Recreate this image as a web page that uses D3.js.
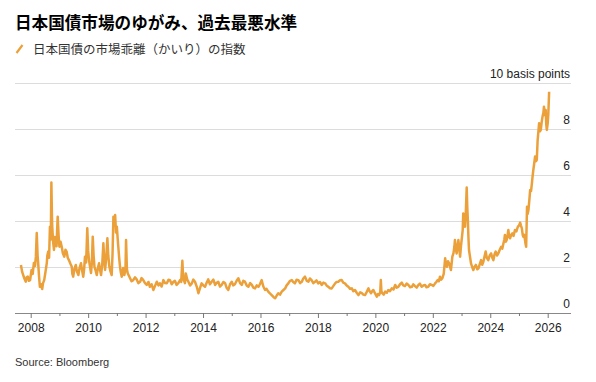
<!DOCTYPE html>
<html>
<head>
<meta charset="utf-8">
<script src="https://cdn.jsdelivr.net/npm/d3@7"></script>
<style>
  html, body { margin: 0; padding: 0; background: #fff; }
  svg { display: block; }
  text { font-family: "Liberation Sans", Arial, "Noto Sans CJK JP", sans-serif; }
  .jp { font-family: "Noto Sans CJK JP", "Liberation Sans", sans-serif; }
</style>
</head>
<body>
<svg id="chart" width="596" height="382"></svg>
<script>
// ---- data (decimal year, index in basis points) ----
const title = "日本国債市場のゆがみ、過去最悪水準";
const seriesName = "日本国債の市場乖離（かいり）の指数";
const unitLabel = "10 basis points";
const source = "Source: Bloomberg";

const dates = [
  2007.66, 2007.70, 2007.74, 2007.78, 2007.83, 2007.86, 2007.90, 2007.94, 2007.98, 2008.00,
  2008.03, 2008.07, 2008.11, 2008.15, 2008.18, 2008.21, 2008.24, 2008.26, 2008.29, 2008.32,
  2008.36, 2008.40, 2008.43, 2008.47, 2008.51, 2008.56, 2008.58, 2008.61, 2008.64, 2008.67,
  2008.70, 2008.72, 2008.74, 2008.75, 2008.78, 2008.81, 2008.84, 2008.87, 2008.90, 2008.92,
  2008.94, 2008.97, 2009.00, 2009.04, 2009.08, 2009.12, 2009.17, 2009.21, 2009.25, 2009.29,
  2009.33, 2009.38, 2009.43, 2009.45, 2009.48, 2009.52, 2009.57, 2009.61, 2009.66, 2009.70,
  2009.75, 2009.79, 2009.83, 2009.86, 2009.89, 2009.93, 2009.97, 2010.00, 2010.03, 2010.06,
  2010.10, 2010.13, 2010.16, 2010.19, 2010.22, 2010.26, 2010.30, 2010.34, 2010.38, 2010.41,
  2010.45, 2010.49, 2010.53, 2010.56, 2010.59, 2010.63, 2010.67, 2010.70, 2010.74, 2010.78,
  2010.82, 2010.85, 2010.88, 2010.91, 2010.94, 2010.97, 2011.00, 2011.03, 2011.05, 2011.08,
  2011.11, 2011.14, 2011.17, 2011.20, 2011.22, 2011.26, 2011.30, 2011.32, 2011.35, 2011.38,
  2011.42, 2011.46, 2011.51, 2011.57, 2011.63, 2011.69, 2011.75, 2011.81, 2011.86, 2011.92,
  2011.98, 2012.04, 2012.10, 2012.15, 2012.21, 2012.27, 2012.33, 2012.39, 2012.45, 2012.50,
  2012.56, 2012.62, 2012.68, 2012.74, 2012.80, 2012.85, 2012.91, 2012.97, 2013.02, 2013.08,
  2013.14, 2013.20, 2013.24, 2013.28, 2013.31, 2013.33, 2013.37, 2013.40, 2013.45, 2013.49,
  2013.55, 2013.61, 2013.66, 2013.72, 2013.78, 2013.84, 2013.90, 2013.95, 2014.01, 2014.07,
  2014.12, 2014.18, 2014.24, 2014.30, 2014.36, 2014.42, 2014.47, 2014.53, 2014.59, 2014.65,
  2014.71, 2014.77, 2014.82, 2014.88, 2014.94, 2015.00, 2015.05, 2015.11, 2015.17, 2015.23,
  2015.29, 2015.35, 2015.40, 2015.46, 2015.52, 2015.58, 2015.64, 2015.70, 2015.75, 2015.81,
  2015.87, 2015.93, 2015.98, 2016.04, 2016.10, 2016.16, 2016.21, 2016.27, 2016.33, 2016.39,
  2016.45, 2016.51, 2016.56, 2016.62, 2016.68, 2016.74, 2016.80, 2016.86, 2016.91, 2016.97,
  2017.03, 2017.09, 2017.14, 2017.20, 2017.26, 2017.32, 2017.38, 2017.44, 2017.49, 2017.55,
  2017.61, 2017.67, 2017.72, 2017.78, 2017.84, 2017.90, 2017.95, 2018.01, 2018.07, 2018.13,
  2018.19, 2018.25, 2018.30, 2018.36, 2018.42, 2018.48, 2018.54, 2018.60, 2018.65, 2018.71,
  2018.77, 2018.83, 2018.88, 2018.94, 2019.00, 2019.06, 2019.12, 2019.18, 2019.23, 2019.29,
  2019.35, 2019.41, 2019.47, 2019.53, 2019.58, 2019.64, 2019.70, 2019.76, 2019.80, 2019.85,
  2019.89, 2019.93, 2019.99, 2020.05, 2020.09, 2020.13, 2020.17, 2020.19, 2020.21, 2020.24,
  2020.29, 2020.34, 2020.40, 2020.45, 2020.51, 2020.57, 2020.63, 2020.69, 2020.74, 2020.80,
  2020.86, 2020.92, 2020.97, 2021.03, 2021.09, 2021.15, 2021.21, 2021.27, 2021.32, 2021.38,
  2021.44, 2021.50, 2021.55, 2021.61, 2021.67, 2021.73, 2021.78, 2021.84, 2021.90, 2021.96,
  2022.02, 2022.08, 2022.12, 2022.17, 2022.21, 2022.25, 2022.29, 2022.33, 2022.38, 2022.43,
  2022.46, 2022.49, 2022.53, 2022.57, 2022.60, 2022.63, 2022.66, 2022.68, 2022.72, 2022.75,
  2022.77, 2022.80, 2022.83, 2022.86, 2022.89, 2022.92, 2022.95, 2022.98, 2023.01, 2023.04,
  2023.06, 2023.09, 2023.12, 2023.15, 2023.18, 2023.20, 2023.22, 2023.24, 2023.26, 2023.30,
  2023.33, 2023.37, 2023.41, 2023.45, 2023.50, 2023.55, 2023.59, 2023.64, 2023.68, 2023.72,
  2023.76, 2023.80, 2023.84, 2023.88, 2023.93, 2023.98, 2024.03, 2024.07, 2024.11, 2024.15,
  2024.19, 2024.24, 2024.28, 2024.33, 2024.38, 2024.42, 2024.46, 2024.49, 2024.51, 2024.54,
  2024.57, 2024.60, 2024.63, 2024.66, 2024.69, 2024.73, 2024.77, 2024.81, 2024.86, 2024.91,
  2024.96, 2025.00, 2025.04, 2025.07, 2025.10, 2025.13, 2025.15, 2025.18, 2025.21, 2025.23,
  2025.25, 2025.28, 2025.30, 2025.33, 2025.36, 2025.39, 2025.42, 2025.45, 2025.47, 2025.50,
  2025.53, 2025.56, 2025.59, 2025.62, 2025.65, 2025.67, 2025.70, 2025.73, 2025.76, 2025.79,
  2025.82, 2025.85, 2025.87, 2025.90, 2025.93, 2025.95, 2025.97, 2026.00, 2026.02, 2026.05
];
const values = [
  2.09, 1.80, 1.65, 1.50, 1.36, 1.55, 1.58, 1.40, 1.43, 1.62,
  1.87, 1.70, 2.17, 2.05, 2.45, 3.48, 2.50, 2.17, 1.60, 1.14,
  1.25, 1.04, 1.30, 1.43, 1.75, 2.17, 2.50, 2.67, 2.40, 3.75,
  3.20, 5.67, 4.20, 3.75, 3.10, 2.74, 3.30, 3.17, 2.90, 3.60,
  4.19, 3.40, 2.88, 3.10, 2.88, 2.60, 2.45, 2.75, 2.67, 2.40,
  2.30, 2.15, 2.01, 1.70, 1.58, 1.90, 2.09, 1.80, 1.65, 1.95,
  2.16, 1.85, 1.58, 1.90, 2.45, 2.20, 3.68, 2.70, 2.30, 2.05,
  1.74, 2.20, 3.32, 2.50, 2.01, 1.85, 1.65, 1.95, 2.16, 1.90,
  1.65, 2.10, 3.03, 2.30, 1.87, 2.40, 3.25, 2.50, 2.01, 1.80,
  1.65, 2.60, 4.19, 3.90, 4.26, 3.50, 3.75, 3.20, 2.88, 2.40,
  2.01, 1.75, 1.58, 1.80, 1.96, 1.65, 1.90, 3.17, 1.90, 1.72,
  1.62, 1.51, 1.38, 1.43, 1.55, 1.46, 1.30, 1.36, 1.52, 1.43,
  1.30, 1.22, 1.35, 1.14, 1.25, 1.00, 1.18, 1.36, 1.20, 1.29,
  1.15, 1.43, 1.30, 1.29, 1.45, 1.43, 1.25, 1.36, 1.40, 1.22,
  1.30, 1.43, 1.35, 2.27, 1.50, 1.43, 1.30, 1.72, 1.45, 1.36,
  1.20, 1.29, 1.45, 1.36, 1.15, 0.86, 1.10, 1.29, 1.20, 1.14,
  1.30, 1.46, 1.25, 1.36, 1.45, 1.22, 1.30, 1.36, 1.15, 1.22,
  1.35, 1.29, 1.10, 1.00, 1.25, 1.36, 1.20, 1.25, 1.40, 1.51,
  1.30, 1.22, 1.40, 1.36, 1.20, 1.14, 1.30, 1.22, 1.10, 1.07,
  1.20, 1.14, 1.25, 1.43, 1.15, 1.00, 1.05, 0.93, 0.85, 0.78,
  0.70, 0.64, 0.75, 0.86, 0.80, 0.93, 1.00, 1.07, 1.20, 1.29,
  1.40, 1.43, 1.35, 1.29, 1.45, 1.43, 1.30, 1.36, 1.50, 1.58,
  1.40, 1.36, 1.50, 1.43, 1.30, 1.36, 1.42, 1.29, 1.35, 1.22,
  1.32, 1.29, 1.20, 1.14, 1.08, 1.07, 1.18, 1.29, 1.35, 1.36,
  1.42, 1.43, 1.32, 1.29, 1.20, 1.14, 1.05, 1.07, 0.95, 1.00,
  0.88, 0.78, 0.90, 0.86, 0.80, 0.78, 0.92, 1.07, 0.95, 0.86,
  0.95, 1.00, 0.85, 0.71, 0.82, 0.78, 0.90, 1.43, 0.95, 0.86,
  0.80, 0.93, 0.88, 1.00, 0.95, 1.07, 1.02, 1.22, 1.10, 1.14,
  1.25, 1.32, 1.20, 1.17, 1.28, 1.22, 1.12, 1.14, 1.25, 1.17,
  1.10, 1.22, 1.28, 1.14, 1.20, 1.22, 1.12, 1.14, 1.25, 1.22,
  1.18, 1.29, 1.35, 1.43, 1.38, 1.58, 1.45, 1.51, 1.70, 2.38,
  2.10, 2.01, 2.25, 2.16, 2.00, 1.87, 2.20, 2.45, 2.60, 2.88,
  3.17, 2.80, 2.59, 2.90, 3.17, 2.80, 2.45, 2.90, 3.25, 3.60,
  4.33, 4.10, 3.75, 4.40, 5.46, 4.60, 4.04, 3.30, 2.74, 2.40,
  2.16, 2.00, 1.87, 2.00, 2.09, 1.90, 1.94, 2.15, 2.30, 2.10,
  2.23, 2.45, 2.67, 2.40, 2.30, 2.50, 2.59, 2.40, 2.30, 2.55,
  2.67, 2.50, 2.59, 2.75, 2.88, 2.80, 3.03, 3.20, 3.39, 3.10,
  3.17, 3.35, 3.61, 3.30, 3.25, 3.40, 3.46, 3.35, 3.61, 3.55,
  3.75, 3.80, 3.93, 3.80, 3.68, 3.40, 3.32, 3.40, 3.17, 3.00,
  2.88, 4.62, 4.30, 4.48, 4.90, 5.35, 5.30, 5.64, 5.90, 6.22,
  6.50, 6.80, 6.60, 6.65, 7.52, 7.80, 8.25, 7.90, 7.96, 8.30,
  8.54, 8.70, 8.97, 8.60, 8.83, 8.20, 7.96, 8.25, 8.60, 9.62
];
const yTicks = [0, 2, 4, 6, 8, 10];
const xTickYears = [2008, 2009, 2010, 2011, 2012, 2013, 2014, 2015, 2016, 2017,
                    2018, 2019, 2020, 2021, 2022, 2023, 2024, 2025, 2026];
const xLabelYears = [2008, 2010, 2012, 2014, 2016, 2018, 2020, 2022, 2024, 2026];

// ---- layout ----
const svg = d3.select("#chart");
const plotLeft = 15, plotRight = 571, plotTop = 83, plotBottom = 313;
const lineColor = "#eba03a";

const x = d3.scaleLinear().domain([2008, 2026]).range([30.7, 547.7]);
const y = d3.scaleLinear().domain([0, 10]).range([plotBottom, plotTop]);

// title & legend
svg.append("text").attr("class", "jp").attr("x", 15).attr("y", 29)
  .attr("font-size", 16.6).attr("font-weight", "bold").attr("fill", "#000").text(title);
svg.append("line").attr("x1", 16.5).attr("y1", 53).attr("x2", 22.5).attr("y2", 45)
  .attr("stroke", lineColor).attr("stroke-width", 2.2).attr("stroke-linecap", "butt");
svg.append("text").attr("class", "jp").attr("x", 33).attr("y", 54)
  .attr("font-size", 12.5).attr("fill", "#333").text(seriesName);

// gridlines
const grid = svg.append("g");
grid.selectAll("line").data(yTicks.filter(d => d > 0)).join("line")
  .attr("x1", plotLeft).attr("x2", plotRight)
  .attr("y1", d => y(d)).attr("y2", d => y(d))
  .attr("stroke", "#dcdcdc").attr("stroke-width", 1).attr("shape-rendering", "crispEdges");

// y labels (above gridlines, right aligned)
svg.append("g").selectAll("text").data(yTicks).join("text")
  .attr("x", plotRight - 1).attr("y", d => y(d) - 5)
  .attr("text-anchor", "end").attr("font-size", 12).attr("fill", "#222")
  .text(d => d === 10 ? unitLabel : d);

// x axis
const xAxis = d3.axisBottom(x).tickValues(xTickYears)
  .tickFormat(d => xLabelYears.includes(d) ? String(d) : "")
  .tickSizeOuter(0).tickSize(5).tickPadding(5);
const gx = svg.append("g").attr("transform", `translate(0,${plotBottom})`).call(xAxis);
gx.select(".domain").attr("d", `M${plotLeft},0.5H${plotRight}`).attr("stroke", "#888");
gx.selectAll(".tick line").attr("stroke", "#777")
  .attr("y2", d => xLabelYears.includes(d) ? 5 : 3);
gx.selectAll(".tick text").attr("font-size", 12).attr("fill", "#222")
  .attr("font-family", "Liberation Sans, Arial, sans-serif");

// line
const n = Math.min(dates.length, values.length);
const data = d3.range(n).map(i => ({ t: dates[i], v: values[i] }));
const line = d3.line().x(d => x(d.t)).y(d => y(d.v));
svg.append("path").datum(data).attr("d", line)
  .attr("fill", "none").attr("stroke", lineColor).attr("stroke-width", 2.5)
  .attr("stroke-linejoin", "round");

// source
svg.append("text").attr("x", 15).attr("y", 366).attr("font-size", 11)
  .attr("fill", "#333").text(source);
</script>
</body>
</html>
